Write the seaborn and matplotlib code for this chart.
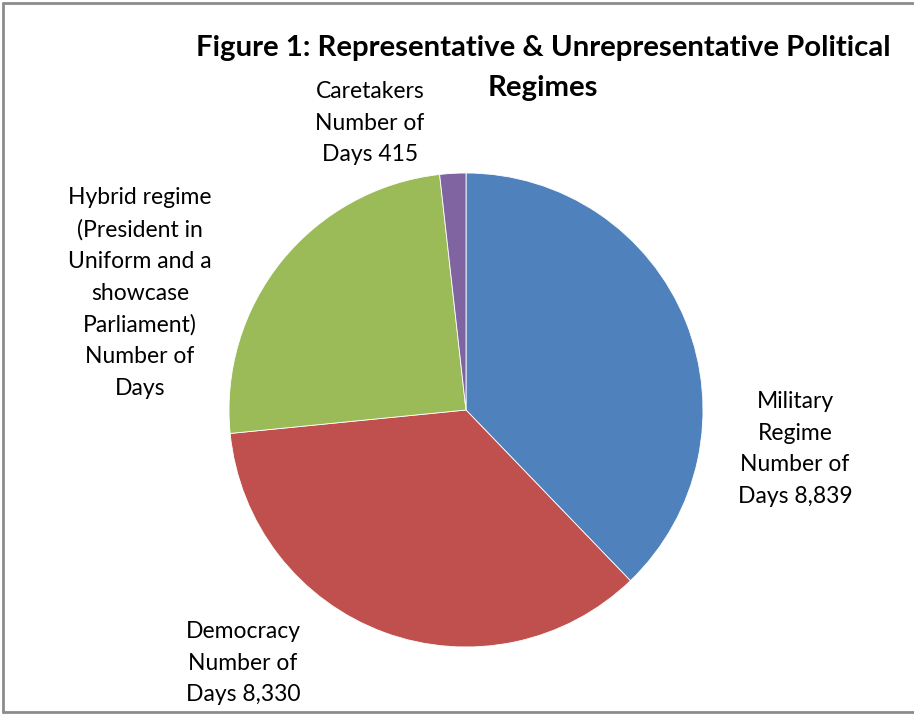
import matplotlib
matplotlib.use("Agg")
import matplotlib.pyplot as plt
import seaborn as sns
from matplotlib.lines import Line2D

# ---- data ----
categories = ["Military Regime", "Democracy",
              "Hybrid regime (President in Uniform and a showcase Parliament)",
              "Caretakers"]
days = [8839, 8330, 5800, 415]
label_texts = [
    "Military\nRegime\nNumber of\nDays 8,839",
    "Democracy\nNumber of\nDays 8,330",
    "Hybrid regime\n(President in\nUniform and a\nshowcase\nParliament)\nNumber of\nDays",
    "Caretakers\nNumber of\nDays 415",
]
colors = ["#4F81BD", "#C0504D", "#9BBB59", "#8064A2"]
title_lines = ["Figure 1: Representative & Unrepresentative Political", "Regimes"]

sns.set_theme(style="white")
plt.rcParams["font.family"] = ["Lato", "DejaVu Sans"]

W, H = 914, 714
fig = plt.figure(figsize=(W / 100, H / 100), dpi=100)
fig.patch.set_facecolor("white")

cx, cy, r = 466, 410, 237
ax = fig.add_axes([(cx - r) / W, (H - cy - r) / H, 2 * r / W, 2 * r / H])
ax.pie(days, colors=colors, startangle=90, counterclock=False,
       wedgeprops=dict(linewidth=0.6, edgecolor="white"))
ax.set_xlim(-1, 1)
ax.set_ylim(-1, 1)
ax.set_aspect("equal")
ax.axis("off")

# labels (pixel positions of label centres)
label_pos = [(795, 449), (243, 663), (140, 293), (370, 123)]
for txt, (x, y) in zip(label_texts, label_pos):
    fig.text(x / W, 1 - y / H, txt, ha="center", va="center",
             fontsize=16.5, linespacing=1.62, color="black")

for line, y in zip(title_lines, [48, 88]):
    fig.text(543 / W, 1 - y / H, line, ha="center", va="center",
             fontsize=21.2, fontweight="bold", color="black")

# outer border (left, top, bottom visible)
bc = "#8c8c8c"
fig.add_artist(Line2D([3 / W, 3 / W], [1 - 3 / H, 1 - 712 / H], color=bc, lw=2, transform=fig.transFigure))
fig.add_artist(Line2D([3 / W, 1], [1 - 3 / H, 1 - 3 / H], color=bc, lw=2, transform=fig.transFigure))
fig.add_artist(Line2D([3 / W, 1], [1 - 712 / H, 1 - 712 / H], color=bc, lw=2, transform=fig.transFigure))

fig.savefig("out.png", dpi=100, facecolor="white")
